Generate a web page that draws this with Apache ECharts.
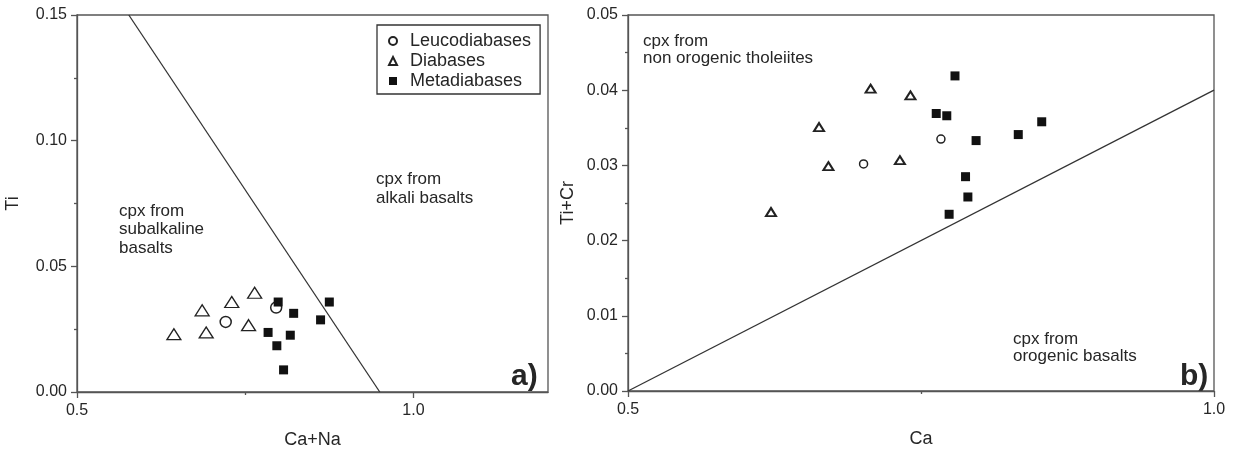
<!DOCTYPE html>
<html><head><meta charset="utf-8">
<script src="https://cdn.jsdelivr.net/npm/echarts@6/dist/echarts.min.js"></script>
<style>html,body{margin:0;padding:0;background:#fff}#c{width:1240px;height:454px}</style>
</head><body><div id="c"></div>
<script>
// ---- Panel a) Ti vs Ca+Na ----
const aLeuco = [[0.721,0.0279],[0.796,0.0336]];
const aDiab  = [[0.644,0.0230],[0.686,0.0325],[0.692,0.0237],[0.730,0.0358],[0.764,0.0395],[0.755,0.0266]];
const aMeta  = [[0.799,0.0358],[0.822,0.0313],[0.784,0.0237],[0.817,0.0226],[0.797,0.0184],[0.807,0.0088],[0.862,0.0287],[0.875,0.0358]];
const aLine  = [[0.577,0.15],[0.950,0.0]];
const aXTicks = [0.5, 1.0];
const aXMinor = [0.75];
// ---- Panel b) Ti+Cr vs Ca ----
const bLeuco = [[0.701,0.0302],[0.767,0.0335]];
const bDiab  = [[0.622,0.0238],[0.663,0.0351],[0.671,0.0299],[0.707,0.0402],[0.732,0.0307],[0.741,0.0393]];
const bMeta  = [[0.779,0.0419],[0.763,0.0369],[0.772,0.0366],[0.797,0.0333],[0.833,0.0341],[0.853,0.0358],[0.788,0.0285],[0.790,0.0258],[0.774,0.0235]];
const bLine  = [[0.5,0.0],[1.0,0.04]];
const seriesNames = ['Leucodiabases','Diabases','Metadiabases'];
const axisNames = {ax:'Ca+Na', ay:'Ti', bx:'Ca', by:'Ti+Cr'};

const FONT = 'Arial, "Liberation Sans", sans-serif';
const AX = '#555';
const TXT = '#262626';
function baseAxis(){
  return {type:'value',
    axisLine:{show:true,lineStyle:{color:AX,width:1.3}},
    axisTick:{show:true,length:6,lineStyle:{color:AX,width:1.3}},
    minorTick:{show:true,splitNumber:2,length:3,lineStyle:{color:AX,width:1.3}},
    splitLine:{show:false},
    nameTextStyle:{fontFamily:FONT,fontSize:18,color:TXT}};
}
function xAxis(gi, min, max, name){
  return Object.assign(baseAxis(), {gridIndex:gi, min:min, max:max, interval:0.5, name:name,
    nameLocation:'middle', nameGap:39,
    axisLabel:{fontFamily:FONT,fontSize:16,color:TXT,margin:11,formatter:v=>v.toFixed(1)}});
}
function yAxis(gi, max, interval, name, gap){
  return Object.assign(baseAxis(), {gridIndex:gi, min:0, max:max, interval:interval, name:name,
    nameLocation:'middle', nameGap:gap, nameRotate:90,
    axisLabel:{fontFamily:FONT,fontSize:16,color:TXT,margin:10,formatter:v=>v.toFixed(2)}});
}
const ax0 = xAxis(0,0.5,1.2,axisNames.ax);
ax0.axisTick.customValues = aXTicks;
ax0.axisLabel.customValues = aXTicks;
ax0.minorTick = {show:false};
// overlay axis carrying only the short minor tick of panel a)
const ax0minor = {gridIndex:0, type:'value', min:0.5, max:1.2, position:'bottom',
  axisLine:{show:false}, axisLabel:{show:false}, splitLine:{show:false},
  axisTick:{show:true,length:3,customValues:aXMinor,lineStyle:{color:AX,width:1.3}}};

function pts(name, data, gi, kind, big){
  const s = {type:'scatter', name:name, xAxisIndex:gi, yAxisIndex:gi, data:data, z:5};
  if(kind==='c'){ s.symbol='circle'; s.symbolSize= big?11:8; s.itemStyle={color:'#fff',borderColor:'#222',borderWidth:1.5,opacity:1}; }
  if(kind==='t'){ s.symbol='triangle'; s.symbolSize= big?[14,11]:[10,8]; s.itemStyle={color:'#fff',borderColor:'#222',borderWidth: big?1.3:2,opacity:1}; }
  if(kind==='s'){ s.symbol='rect'; s.symbolSize= big?9:9; s.itemStyle={color:'#111',borderColor:'#111',borderWidth:0,opacity:1}; }
  return s;
}
function line(data, gi){
  return {type:'line', xAxisIndex:gi, yAxisIndex:gi, data:data, symbol:'none', silent:true,
    lineStyle:{color:'#333',width:1.3}, z:3};
}
const txt = (x,y,t,size,weight,lh)=>({type:'text', left:x, top:y, silent:true,
  style:{text:t, fontFamily:FONT, fontSize:size||17, fontWeight:weight||'normal', fill:TXT, lineHeight:lh||18}});

const chart = echarts.init(document.getElementById('c'), null, {renderer:'canvas'});
chart.setOption({
  backgroundColor:'#fff',
  animation:false,
  grid:[
    {left:77, top:15, width:471, height:380, show:true, borderColor:AX, borderWidth:1.3, backgroundColor:'transparent'},
    {left:628, top:15, width:586, height:376, show:true, borderColor:AX, borderWidth:1.3, backgroundColor:'transparent'}
  ],
  xAxis:[ ax0, xAxis(1,0.5,1.0,axisNames.bx), ax0minor ],
  yAxis:[ yAxis(0,0.15,0.05,axisNames.ay,55), yAxis(1,0.05,0.01,axisNames.by,51) ],
  legend:{
    left:377, top:25, orient:'vertical', itemGap:0, itemWidth:8, itemHeight:8,
    padding:[6,9,3,11], borderColor:'#333', borderWidth:1.3, backgroundColor:'#fff',
    textStyle:{fontFamily:FONT,fontSize:18,color:TXT,lineHeight:20,padding:[0,0,0,8]},
    data:seriesNames, selectedMode:false
  },
  series:[
    line(aLine,0), line(bLine,1),
    pts(seriesNames[0], aLeuco, 0, 'c', true),
    pts(seriesNames[1], aDiab, 0, 't', true),
    pts(seriesNames[2], aMeta, 0, 's', true),
    pts(seriesNames[0], bLeuco, 1, 'c', false),
    pts(seriesNames[1], bDiab, 1, 't', false),
    pts(seriesNames[2], bMeta, 1, 's', false)
  ],
  graphic:[
    txt(119,202,'cpx from\nsubalkaline\nbasalts',17,'normal',18.5),
    txt(376,170,'cpx from\nalkali basalts',17,'normal',19),
    txt(511,362,'a)',30,'bold',30),
    txt(643,33,'cpx from\nnon orogenic tholeiites',17,'normal',17),
    txt(1013,331,'cpx from\norogenic basalts',17,'normal',17),
    txt(1180,362,'b)',30,'bold',30)
  ]
});
</script></body></html>
